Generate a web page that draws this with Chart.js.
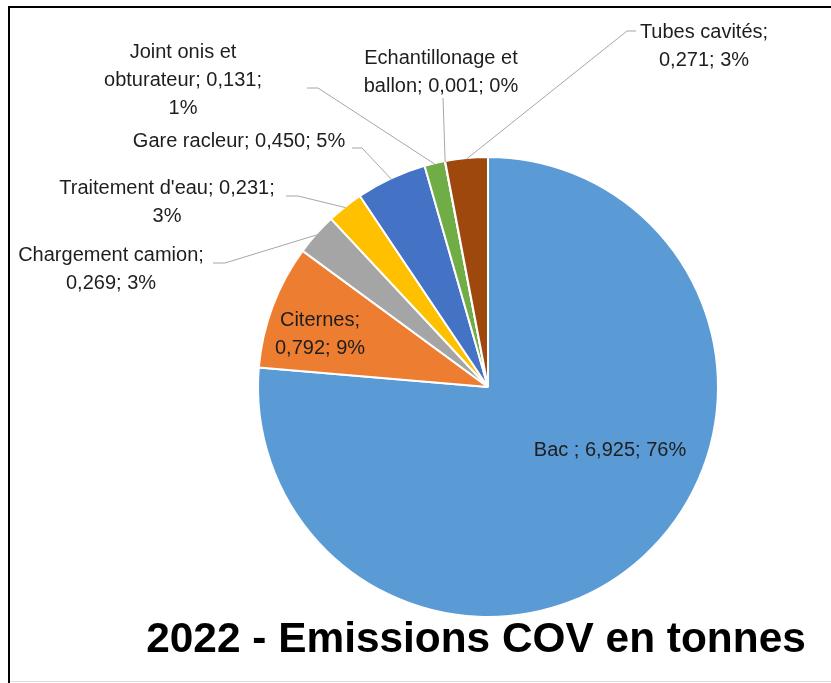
<!DOCTYPE html>
<html>
<head>
<meta charset="utf-8">
<script src="https://cdn.jsdelivr.net/npm/chart.js@4.4.1/dist/chart.umd.min.js"></script>
<style>
  html, body { margin: 0; padding: 0; background: #fff; }
  #wrap { position: relative; width: 831px; height: 683px; overflow: hidden; }
  #frame { position: absolute; left: 8px; top: 6px; right: -10px; bottom: -10px;
           border-left: 2px solid #000; border-top: 2px solid #000; }
  #bottomline { position: absolute; left: 10px; right: 0; top: 681px; height: 1px; background: #dcdcdc; }
  canvas { position: absolute; left: 0; top: 0; }
</style>
</head>
<body>
<div id="wrap">
  <canvas id="emissions" width="831" height="683"></canvas>
  <div id="frame"></div>
  <div id="bottomline"></div>
</div>
<script>
// data
const categories = ['Bac ', 'Citernes', 'Chargement camion', "Traitement d'eau", 'Gare racleur',
                    'Joint onis et obturateur', 'Echantillonage et ballon', 'Tubes cavités'];
const emissions = [6.925, 0.792, 0.269, 0.231, 0.450, 0.131, 0.001, 0.271];
const colors = ['#5B9BD5', '#ED7D31', '#A5A5A5', '#FFC000', '#4472C4', '#70AD47', '#264478', '#9E480E'];
const title = '2022 - Emissions COV en tonnes';

// label layout: text centre, words per line, leader start [x, y, elbow x] (null = inside slice)
const labelLayout = [
  { x: 610, y: 450, lines: [4], lead: null },
  { x: 320, y: 334, lines: [1, 2], lead: null },
  { x: 111, y: 269, lines: [2, 2], lead: [213, 263, 225] },
  { x: 167, y: 202, lines: [3, 1], lead: [286, 196, 298] },
  { x: 239, y: 141, lines: [5], lead: [352, 148, 362] },
  { x: 183, y: 80, lines: [3, 2, 1], lead: [307, 88, 318] },
  { x: 441, y: 72, lines: [2, 3], lead: [443, 98, 443] },
  { x: 704, y: 46, lines: [2, 2], lead: [636, 31, 627] }
];

const FONT_FAMILY = '"Liberation Sans", Arial, sans-serif';
const total = emissions.reduce((a, b) => a + b, 0);

function labelText(i) {
  const val = emissions[i].toFixed(3).replace('.', ',');
  const pct = Math.round(emissions[i] / total * 100);
  return categories[i] + '; ' + val + '; ' + pct + '%';
}

const pieLabels = {
  id: 'pieLabels',
  afterDatasetsDraw(chart) {
    const ctx = chart.ctx;
    const arcs = chart.getDatasetMeta(0).data;
    ctx.save();
    arcs.forEach((arc, i) => {
      const lay = labelLayout[i];
      const p = arc.getProps(['x', 'y', 'startAngle', 'endAngle', 'outerRadius'], true);
      const mid = (p.startAngle + p.endAngle) / 2;
      if (lay.lead) {
        const ex = p.x + Math.cos(mid) * (p.outerRadius - 1);
        const ey = p.y + Math.sin(mid) * (p.outerRadius - 1);
        ctx.strokeStyle = '#a6a6a6';
        ctx.lineWidth = 1;
        ctx.beginPath();
        ctx.moveTo(lay.lead[0], lay.lead[1]);
        ctx.lineTo(lay.lead[2], lay.lead[1]);
        ctx.lineTo(ex, ey);
        ctx.stroke();
      }
      const words = labelText(i).split(' ');
      const lines = [];
      let k = 0;
      lay.lines.forEach(n => {
        lines.push(words.slice(k, k + n).join(' '));
        k += n;
      });
      ctx.fillStyle = '#1e1e1e';
      ctx.font = '20px ' + FONT_FAMILY;
      ctx.textAlign = 'center';
      ctx.textBaseline = 'middle';
      const lh = 28;
      const y0 = lay.y - (lines.length - 1) * lh / 2;
      lines.forEach((t, j) => ctx.fillText(t, lay.x, y0 + j * lh));
    });
    ctx.restore();
  },
  afterDraw(chart) {
    const ctx = chart.ctx;
    ctx.save();
    let size = 40;
    ctx.font = 'bold ' + size + 'px ' + FONT_FAMILY;
    const w = ctx.measureText(title).width;
    size = size * 659 / w;
    ctx.font = 'bold ' + size.toFixed(1) + 'px ' + FONT_FAMILY;
    ctx.fillStyle = '#000';
    ctx.textAlign = 'center';
    ctx.textBaseline = 'alphabetic';
    ctx.fillText(title, 476, 652);
    ctx.restore();
  }
};

new Chart(document.getElementById('emissions'), {
  type: 'pie',
  data: {
    labels: categories,
    datasets: [{
      data: emissions,
      backgroundColor: colors,
      borderColor: '#ffffff',
      borderWidth: 2
    }]
  },
  options: {
    responsive: false,
    animation: false,
    radius: 230,
    layout: { padding: { left: 250, right: 105, top: 140, bottom: 49 } },
    plugins: {
      legend: { display: false },
      tooltip: { enabled: false }
    }
  },
  plugins: [pieLabels]
});
</script>
</body>
</html>
